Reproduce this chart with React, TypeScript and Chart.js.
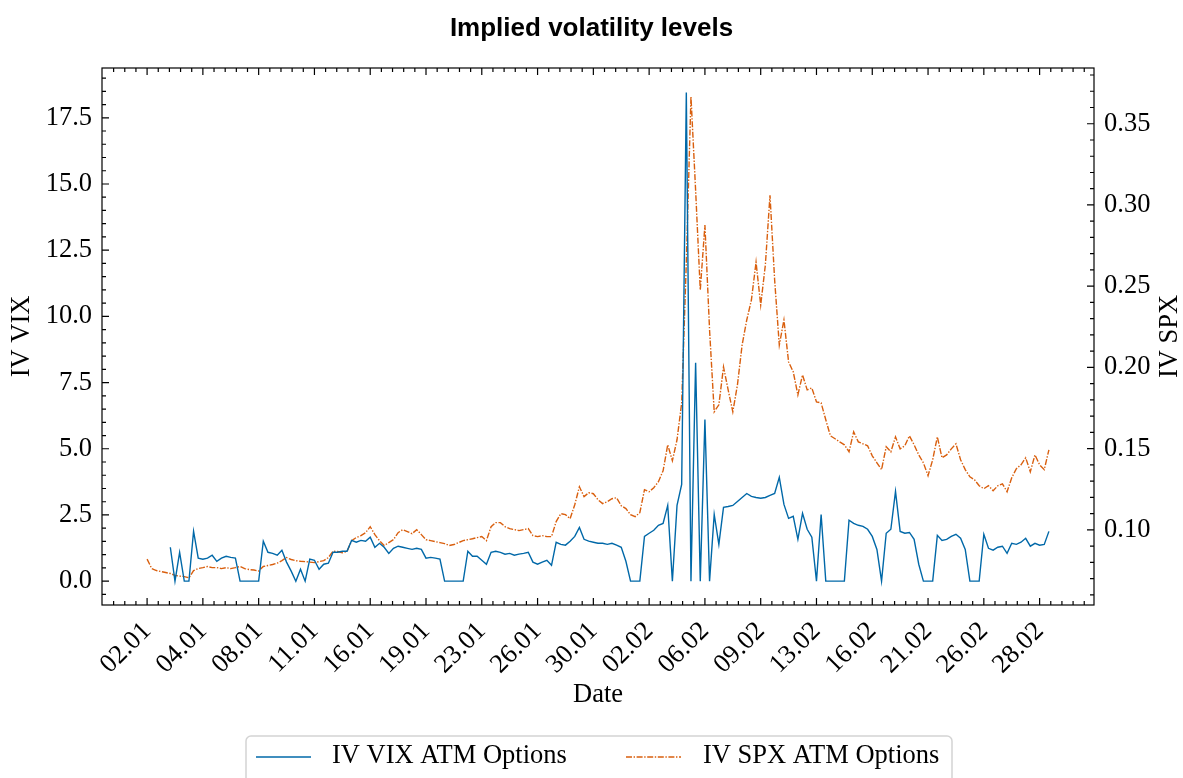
import React, { useEffect, useRef } from "react";
import { Chart, registerables } from "chart.js";

Chart.register(...registerables);

// ---------- data ----------
const dateLabels = [
  "02.01", "04.01", "08.01", "11.01", "16.01", "19.01", "23.01", "26.01", "30.01",
  "02.02", "06.02", "09.02", "13.02", "16.02", "21.02", "26.02", "28.02",
];
const POINTS_PER_DATE_TICK = 12;

const ivVixAtm: (number | null)[] = [
  null, null, null, null, null, 1.28, 0, 1.09, 0, 0,
  1.88, 0.87, 0.83, 0.87, 0.98, 0.75, 0.87, 0.94, 0.9, 0.87,
  0, 0, 0, 0, 0, 1.51, 1.09, 1.05, 0.98, 1.17,
  0.72, 0.38, 0, 0.45, 0, 0.83, 0.79, 0.45, 0.64, 0.68,
  1.09, 1.09, 1.13, 1.13, 1.54, 1.47, 1.54, 1.51, 1.66, 1.28,
  1.43, 1.28, 1.05, 1.24, 1.32, 1.28, 1.24, 1.2, 1.24, 1.2,
  0.87, 0.9, 0.87, 0.83, 0, 0, 0, 0, 0, 1.13,
  0.94, 0.94, 0.79, 0.64, 1.09, 1.13, 1.09, 1.02, 1.05, 0.98,
  1.02, 1.05, 1.09, 0.72, 0.64, 0.72, 0.79, 0.6, 1.47, 1.39,
  1.36, 1.51, 1.69, 2.03, 1.58, 1.51, 1.47, 1.43, 1.43, 1.39,
  1.43, 1.36, 1.28, 0.75, 0, 0, 0, 1.69, 1.81, 1.92,
  2.11, 2.18, 2.86, 0, 2.86, 3.65, 18.45, 0, 8.25, 0,
  6.1, 0, 2.52, 1.39, 2.79, 2.82, 2.86, 3.01, 3.16, 3.31,
  3.2, 3.16, 3.13, 3.16, 3.24, 3.31, 3.92, 2.9, 2.37, 2.45,
  1.58, 2.56, 1.96, 1.66, 0, 2.52, 0, 0, 0, 0,
  0, 2.3, 2.18, 2.11, 2.07, 1.96, 1.69, 1.2, 0, 1.81,
  1.96, 3.39, 1.88, 1.81, 1.84, 1.58, 0.64, 0, 0, 0,
  1.73, 1.54, 1.58, 1.69, 1.77, 1.62, 1.2, 0, 0, 0,
  1.77, 1.24, 1.17, 1.28, 1.32, 1.05, 1.43, 1.39, 1.47, 1.62,
  1.32, 1.43, 1.36, 1.39, 1.88,
];

const ivSpxAtm: number[] = [
  0.082, 0.0762, 0.075, 0.0744, 0.0738, 0.0732, 0.072, 0.0716, 0.0713, 0.0705,
  0.075, 0.0762, 0.0768, 0.0775, 0.0768, 0.0768, 0.0762, 0.0768, 0.0762, 0.0768,
  0.0775, 0.0762, 0.0756, 0.0753, 0.0747, 0.0775, 0.0781, 0.0787, 0.0796, 0.0811,
  0.083, 0.0818, 0.0811, 0.0807, 0.0805, 0.0802, 0.0799, 0.0805, 0.0811, 0.083,
  0.0869, 0.0867, 0.086, 0.0867, 0.0934, 0.0953, 0.0965, 0.0983, 0.102, 0.0971,
  0.0934, 0.0904, 0.0922, 0.094, 0.0983, 0.1002, 0.099, 0.0977, 0.1002, 0.0971,
  0.094, 0.0934, 0.0928, 0.0922, 0.0916, 0.0904, 0.091, 0.0922, 0.0934, 0.094,
  0.0946, 0.0953, 0.0959, 0.0934, 0.102, 0.1045, 0.1045, 0.102, 0.1008, 0.1002,
  0.0996, 0.1002, 0.1008, 0.0965, 0.0959, 0.0965, 0.0959, 0.0959, 0.1051, 0.11,
  0.1094, 0.1069, 0.1155, 0.1266, 0.1205, 0.1229, 0.1223, 0.1186, 0.1162, 0.1174,
  0.1192, 0.1198, 0.1149, 0.1131, 0.1094, 0.1082, 0.1106, 0.1248, 0.1235, 0.126,
  0.1297, 0.1364, 0.1524, 0.1426, 0.1555, 0.1782, 0.2648, 0.3667, 0.309, 0.2476,
  0.2876, 0.2231, 0.1727, 0.177, 0.2003, 0.1862, 0.1727, 0.1893, 0.2138, 0.2292,
  0.2415, 0.2648, 0.2384, 0.263, 0.306, 0.2538, 0.2138, 0.2292, 0.2034, 0.1973,
  0.1831, 0.1954, 0.1862, 0.1874, 0.1788, 0.1782, 0.1678, 0.1579, 0.1561, 0.1542,
  0.1524, 0.1481, 0.1604, 0.1542, 0.153, 0.1518, 0.1456, 0.1413, 0.1371, 0.1512,
  0.1481, 0.1573, 0.1499, 0.1518, 0.1579, 0.1524, 0.1462, 0.1413, 0.1334, 0.1432,
  0.1573, 0.1444, 0.1462, 0.1499, 0.153, 0.1432, 0.1371, 0.1327, 0.1309, 0.1272,
  0.1254, 0.1272, 0.1241, 0.1272, 0.1284, 0.1235, 0.1321, 0.1377, 0.1401, 0.1444,
  0.1358, 0.1462, 0.1401, 0.1371, 0.1493,
];

const vixTicks = [0, 2.5, 5, 7.5, 10, 12.5, 15, 17.5];
const spxTicks = [0.1, 0.15, 0.2, 0.25, 0.3, 0.35];
const vixRange = [-0.9, 19.38];
const spxRange = [0.0538, 0.3843];

const seriesNames = ["IV VIX ATM Options", "IV SPX ATM Options"];

// ---------- styles ----------
const SERIF = "'Liberation Serif', 'Times New Roman', serif";
const SANS = "'Liberation Sans', Arial, sans-serif";
const BLUE = "#0068A8";
const ORANGE = "#D95F0E";
const FS = 26.5;
const DASHDOT = [6, 1.6, 1.4, 1.6];

const frameTicksLegend = {
  id: "frameTicksLegend",
  afterDraw(chart: any) {
    const { ctx, chartArea: a, scales } = chart;
    const xs = scales.x;
    const yl = scales.y;
    const yr = scales.y1;
    ctx.save();
    ctx.strokeStyle = "#000";
    ctx.lineWidth = 1.2;
    ctx.strokeRect(a.left, a.top, a.right - a.left, a.bottom - a.top);

    const MAJ = 7;
    const MIN = 4;
    ctx.beginPath();
    const xStep = POINTS_PER_DATE_TICK / 5;
    for (let k = Math.ceil(xs.min / xStep); k <= Math.floor(xs.max / xStep); k++) {
      const p = xs.getPixelForValue(k * xStep);
      if (p <= a.left + 1 || p >= a.right - 1) continue;
      const len = k % 5 === 0 ? MAJ : MIN;
      ctx.moveTo(p, a.bottom);
      ctx.lineTo(p, a.bottom - len);
      ctx.moveTo(p, a.top);
      ctx.lineTo(p, a.top + len);
    }
    for (let k = Math.ceil(yl.min / 0.5); k <= Math.floor(yl.max / 0.5); k++) {
      const p = yl.getPixelForValue(k * 0.5);
      if (p <= a.top + 1 || p >= a.bottom - 1) continue;
      const len = k % 5 === 0 ? MAJ : MIN;
      ctx.moveTo(a.left, p);
      ctx.lineTo(a.left + len, p);
    }
    for (let k = Math.ceil(yr.min / 0.01); k <= Math.floor(yr.max / 0.01); k++) {
      const p = yr.getPixelForValue(k * 0.01);
      if (p <= a.top + 1 || p >= a.bottom - 1) continue;
      const len = k % 5 === 0 ? MAJ : MIN;
      ctx.moveTo(a.right, p);
      ctx.lineTo(a.right - len, p);
    }
    ctx.stroke();

    // right axis title (reads bottom to top)
    ctx.save();
    ctx.translate(1170, (a.top + a.bottom) / 2);
    ctx.rotate(-Math.PI / 2);
    ctx.fillStyle = "#000";
    ctx.font = `${FS}px ${SERIF}`;
    ctx.textAlign = "center";
    ctx.textBaseline = "middle";
    ctx.fillText("IV SPX", 0, 0);
    ctx.restore();

    // legend
    const lx = 246, ly = 736, lw = 706, lh = 62, r = 5;
    ctx.beginPath();
    ctx.moveTo(lx + r, ly);
    ctx.lineTo(lx + lw - r, ly);
    ctx.arcTo(lx + lw, ly, lx + lw, ly + r, r);
    ctx.lineTo(lx + lw, ly + lh - r);
    ctx.arcTo(lx + lw, ly + lh, lx + lw - r, ly + lh, r);
    ctx.lineTo(lx + r, ly + lh);
    ctx.arcTo(lx, ly + lh, lx, ly + lh - r, r);
    ctx.lineTo(lx, ly + r);
    ctx.arcTo(lx, ly, lx + r, ly, r);
    ctx.closePath();
    ctx.fillStyle = "rgba(255,255,255,0.8)";
    ctx.fill();
    ctx.strokeStyle = "#d4d4d4";
    ctx.lineWidth = 1.5;
    ctx.stroke();

    const ly0 = 757;
    ctx.lineWidth = 1.3;
    ctx.strokeStyle = BLUE;
    ctx.setLineDash([]);
    ctx.beginPath();
    ctx.moveTo(256, ly0);
    ctx.lineTo(311, ly0);
    ctx.stroke();
    ctx.strokeStyle = ORANGE;
    ctx.setLineDash(DASHDOT);
    ctx.beginPath();
    ctx.moveTo(626, ly0);
    ctx.lineTo(681, ly0);
    ctx.stroke();
    ctx.setLineDash([]);
    ctx.fillStyle = "#000";
    ctx.font = `${FS}px ${SERIF}`;
    ctx.textAlign = "left";
    ctx.textBaseline = "middle";
    ctx.fillText(seriesNames[0], 332, 756);
    ctx.fillText(seriesNames[1], 703, 756);
    ctx.restore();
  },
};

export default function App() {
  const canvasRef = useRef<HTMLCanvasElement | null>(null);

  useEffect(() => {
    const canvas = canvasRef.current;
    if (!canvas) return;
    const span = ivSpxAtm.length - 1;
    const chart = new Chart(canvas, {
      type: "line",
      data: {
        datasets: [
          {
            label: seriesNames[0],
            data: ivVixAtm.map((v, i) => ({ x: i, y: v })) as any,
            yAxisID: "y",
            borderColor: BLUE,
            borderWidth: 1.4,
            pointRadius: 0,
            tension: 0,
            spanGaps: false,
          },
          {
            label: seriesNames[1],
            data: ivSpxAtm.map((v, i) => ({ x: i, y: v })),
            yAxisID: "y1",
            borderColor: ORANGE,
            borderWidth: 1.4,
            borderDash: DASHDOT,
            pointRadius: 0,
            tension: 0,
          },
        ],
      },
      options: {
        animation: false,
        responsive: true,
        maintainAspectRatio: false,
        layout: { padding: { left: 0, right: 0, top: 0, bottom: 63 } },
        plugins: {
          legend: { display: false },
          tooltip: { enabled: false },
          title: {
            display: true,
            text: "Implied volatility levels",
            color: "#000",
            font: { family: SANS, size: 26, weight: "bold", lineHeight: 1.2 },
            padding: { top: 13, bottom: 23.8 },
          },
        },
        scales: {
          x: {
            type: "linear",
            min: -0.05 * span,
            max: 1.05 * span,
            grid: { display: false, drawTicks: false },
            border: { display: false },
            afterBuildTicks: (s: any) => {
              s.ticks = dateLabels.map((_, k) => ({ value: k * POINTS_PER_DATE_TICK }));
            },
            afterFit: (s: any) => {
              s.height = 110;
            },
            ticks: {
              autoSkip: false,
              minRotation: 45,
              maxRotation: 45,
              padding: 22,
              labelOffset: 0,
              color: "#000",
              font: { family: SERIF, size: FS, lineHeight: 0 },
              callback: (_v: any, i: number) => dateLabels[i] ?? "",
            },
            title: {
              display: true,
              text: "Date",
              color: "#000",
              font: { family: SERIF, size: FS, lineHeight: 1 },
              padding: { top: 0, bottom: 7 },
            },
          },
          y: {
            type: "linear",
            position: "left",
            min: vixRange[0],
            max: vixRange[1],
            grid: { display: false, drawTicks: false },
            border: { display: false },
            afterBuildTicks: (s: any) => {
              s.ticks = vixTicks.map((v) => ({ value: v }));
            },
            afterFit: (s: any) => {
              s.width = 102;
            },
            ticks: {
              padding: 10,
              color: "#000",
              font: { family: SERIF, size: FS },
              callback: (v: any) => Number(v).toFixed(1),
            },
            title: {
              display: true,
              text: "IV VIX",
              color: "#000",
              font: { family: SERIF, size: FS, lineHeight: 1 },
              padding: { top: 9, bottom: 0 },
            },
          },
          y1: {
            type: "linear",
            position: "right",
            min: spxRange[0],
            max: spxRange[1],
            grid: { display: false, drawTicks: false },
            border: { display: false },
            afterBuildTicks: (s: any) => {
              s.ticks = spxTicks.map((v) => ({ value: v }));
            },
            afterFit: (s: any) => {
              s.width = 89;
            },
            ticks: {
              padding: 10,
              color: "#000",
              font: { family: SERIF, size: FS },
              callback: (v: any) => Number(v).toFixed(2),
            },
          },
        },
      } as any,
      plugins: [frameTicksLegend],
    });
    return () => chart.destroy();
  }, []);

  return (
    <div style={{ position: "fixed", left: 0, top: 0, width: 1183, height: 778, background: "#fff" }}>
      <canvas ref={canvasRef} />
    </div>
  );
}
